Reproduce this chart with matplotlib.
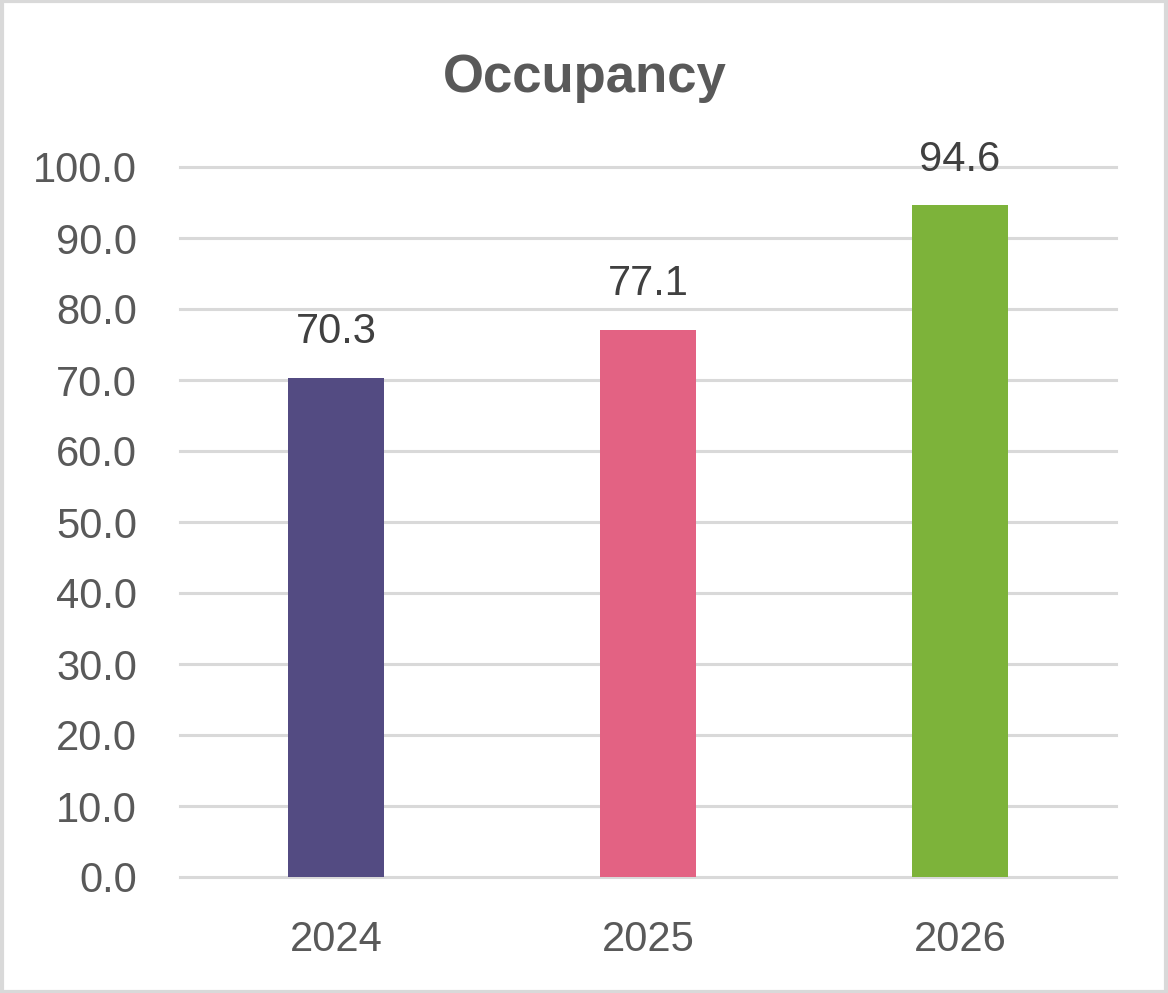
import matplotlib
matplotlib.use("Agg")
import matplotlib.pyplot as plt
from matplotlib.patches import Rectangle

categories = ["2024", "2025", "2026"]
values = [70.3, 77.1, 94.6]
colors = ["#534B82", "#E36283", "#7DB33A"]
yticks = [0, 10, 20, 30, 40, 50, 60, 70, 80, 90, 100]

plt.rcParams['font.family'] = ['Liberation Sans', 'DejaVu Sans']

fig = plt.figure(figsize=(11.68, 9.93), dpi=100)
ax = fig.add_axes([180/1168, 1-877/993, (1116-180)/1168, (877-167)/993])

x = list(range(len(categories)))
ax.bar(x, values, width=0.31, color=colors, zorder=3)
ax.set_xlim(-0.5, len(categories)-0.5)
ax.set_ylim(0, 100)
ax.set_yticks(yticks)
ax.set_yticklabels([f"{v:.1f}" for v in yticks])
ax.set_xticks(x)
ax.set_xticklabels(categories)
ax.tick_params(axis='y', length=0, pad=31, labelsize=30, labelcolor="#595959")
ax.tick_params(axis='x', length=0, pad=31, labelsize=30, labelcolor="#595959")
ax.grid(axis='y', color="#D9D9D9", linewidth=2.2, zorder=0)
ax.set_axisbelow(True)
for gl in ax.get_ygridlines():
    gl.set_clip_on(False)
for s in ax.spines.values():
    s.set_visible(False)

for xi, v in zip(x, values):
    ax.annotate(f"{v:.1f}", (xi, v), xytext=(0, 25), textcoords="offset points",
                ha='center', va='baseline', fontsize=30, color="#404040")

fig.text(585/1168, 1-78/993, "Occupancy", ha='center', va='center',
         fontsize=38, fontweight='bold', color="#595959")

fig.patches.append(Rectangle((0.0015, 0.0015), 0.997, 0.997, transform=fig.transFigure,
                             fill=False, edgecolor="#D9D9D9", linewidth=3))

fig.savefig("out.png", dpi=100)
